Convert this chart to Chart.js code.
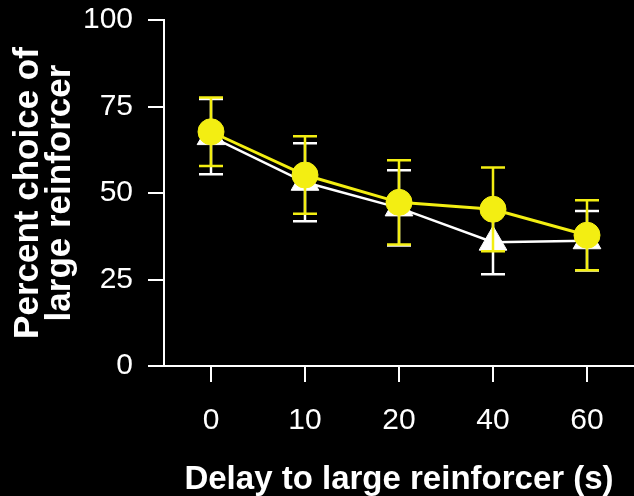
<!DOCTYPE html>
<html>
<head>
<meta charset="utf-8">
<script src="https://cdn.jsdelivr.net/npm/chart.js@4"></script>
<style>
  html, body { margin: 0; padding: 0; background: #000; }
  #wrap { width: 634px; height: 496px; }
</style>
</head>
<body>
<div id="wrap"><canvas id="c" width="634" height="496"></canvas></div>
<script>
// Delay to the large reinforcer (s)
const delays = ['0', '10', '20', '40', '60'];

// Circle series (yellow): mean percent choice and error half-widths
const circleMeans = [67.7, 55.2, 47.3, 45.3, 37.8];
const circleErrors = [9.9, 11.2, 12.2, 12.1, 10.1];

// Triangle series (white): mean percent choice and error half-widths
const triangleMeans = [66.3, 53.1, 45.7, 35.8, 36.2];
const triangleErrors = [10.9, 11.3, 10.9, 9.3, 8.6];

// Y axis ticks
const yTicks = [0, 25, 50, 75, 100];

const YELLOW = '#f3ee12';
const WHITE = '#ffffff';
const FONT = '"Liberation Sans", Arial, Helvetica, sans-serif';

// Vertical error bars with caps, drawn just before each dataset so the
// markers sit on top of their own bars.
const errorBars = {
  id: 'errorBars',
  beforeDatasetDraw(chart, args) {
    const ds = chart.data.datasets[args.index];
    if (!ds.errors) return;
    const ctx = chart.ctx;
    const yScale = chart.scales.y;
    const cap = 12;
    ctx.save();
    ctx.strokeStyle = ds.borderColor;
    ctx.lineWidth = 2.5;
    ctx.lineCap = 'butt';
    args.meta.data.forEach((pt, i) => {
      const v = ds.data[i];
      const e = ds.errors[i];
      const x = pt.x;
      const yHi = yScale.getPixelForValue(v + e);
      const yLo = yScale.getPixelForValue(v - e);
      ctx.beginPath();
      ctx.moveTo(x, yHi);
      ctx.lineTo(x, yLo);
      ctx.moveTo(x - cap, yHi);
      ctx.lineTo(x + cap, yHi);
      ctx.moveTo(x - cap, yLo);
      ctx.lineTo(x + cap, yLo);
      ctx.stroke();
    });
    ctx.restore();
  }
};

new Chart(document.getElementById('c'), {
  type: 'line',
  data: {
    labels: delays,
    datasets: [
      {
        data: circleMeans,
        errors: circleErrors,
        borderColor: YELLOW,
        backgroundColor: YELLOW,
        borderWidth: 3,
        pointStyle: 'circle',
        pointRadius: 13,
        pointBorderWidth: 1,
        pointBackgroundColor: YELLOW,
        pointBorderColor: YELLOW,
        tension: 0
      },
      {
        data: triangleMeans,
        errors: triangleErrors,
        borderColor: WHITE,
        backgroundColor: WHITE,
        borderWidth: 2.5,
        pointStyle: 'triangle',
        pointRadius: 16,
        pointBorderWidth: 1,
        pointBackgroundColor: WHITE,
        pointBorderColor: WHITE,
        tension: 0
      }
    ]
  },
  options: {
    responsive: false,
    animation: false,
    devicePixelRatio: 1,
    layout: { autoPadding: false, padding: { top: 20, right: 0, bottom: 0, left: 0 } },
    plugins: {
      legend: { display: false },
      tooltip: { enabled: false }
    },
    scales: {
      x: {
        type: 'category',
        offset: true,
        border: { display: true, color: WHITE, width: 2 },
        grid: {
          drawOnChartArea: false,
          drawTicks: true,
          tickLength: 16,
          color: WHITE,
          lineWidth: 2,
          offset: false
        },
        ticks: {
          color: WHITE,
          padding: 0,
          font: { family: FONT, size: 30, weight: 'normal', lineHeight: 2.56 },
          maxRotation: 0
        },
        title: {
          display: true,
          text: 'Delay to large reinforcer (s)',
          color: WHITE,
          font: { family: FONT, size: 33, weight: 'bold', lineHeight: 1 },
          padding: { top: 0, bottom: 0 }
        },
        afterFit(scale) {
          scale.height = 130;
          scale.paddingLeft = 0;
          scale.paddingRight = 0;
        }
      },
      y: {
        min: 0,
        max: 100,
        border: { display: true, color: WHITE, width: 2 },
        grid: {
          drawOnChartArea: false,
          drawTicks: true,
          tickLength: 16,
          color: WHITE,
          lineWidth: 2
        },
        afterBuildTicks(scale) {
          scale.ticks = yTicks.map(v => ({ value: v }));
        },
        ticks: {
          color: WHITE,
          padding: 15,
          font: { family: FONT, size: 30, weight: 'normal' }
        },
        title: {
          display: true,
          text: ['Percent choice of', 'large reinforcer'],
          color: WHITE,
          font: { family: FONT, size: 35, weight: 'bold', lineHeight: 0.92 },
          padding: { top: 12, bottom: 0 }
        },
        afterFit(scale) {
          scale.width = 164;
          scale.paddingTop = 0;
          scale.paddingBottom = 0;
        }
      }
    }
  },
  plugins: [errorBars]
});
</script>
</body>
</html>
